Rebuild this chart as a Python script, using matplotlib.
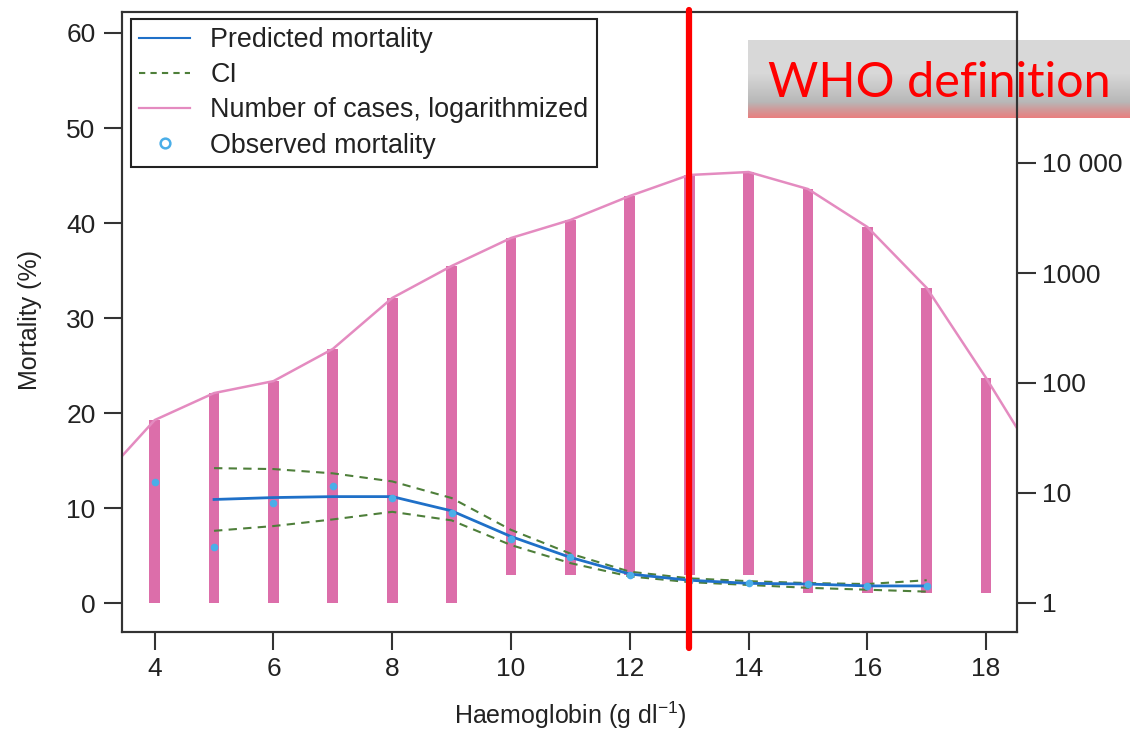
import numpy as np
import matplotlib
matplotlib.use("Agg")
import matplotlib.pyplot as plt
from matplotlib.lines import Line2D
from matplotlib.ticker import FixedLocator, FixedFormatter, NullLocator
import matplotlib.transforms as mtransforms

plt.rcParams['font.family'] = ['Liberation Sans', 'DejaVu Sans']
plt.rcParams['mathtext.fontset'] = 'custom'
plt.rcParams['mathtext.rm'] = 'Liberation Sans'
plt.rcParams['mathtext.it'] = 'Liberation Sans:italic'

# ---------------- data ----------------
hb = [4, 5, 6, 7, 8, 9, 10, 11, 12, 13, 14, 15, 16, 17, 18]
cases_top = [46, 81, 104, 204, 593, 1158, 2080, 3033, 5012, 7780, 8280, 5800, 2620, 731, 111]
cases_bottom = [1, 1, 1, 1, 1, 1, 1.8, 1.8, 1.8, 1.8, 1.8, 1.23, 1.23, 1.23, 1.23]
line_x = [3, 4, 5, 6, 7, 8, 9, 10, 11, 12, 13, 14, 15, 16, 17, 18, 19]
line_cases = [11.7, 46, 81, 104, 204, 593, 1158, 2080, 3033, 5012, 7780, 8280, 5800, 2620, 731, 111, 14.8]

pred_x = [5, 6, 7, 8, 9, 10, 11, 12, 13, 14, 15, 16, 17]
predicted = [10.9, 11.1, 11.2, 11.2, 9.7, 7.0, 4.8, 3.05, 2.4, 2.07, 2.0, 1.8, 1.8]
ci_upper = [14.2, 14.1, 13.65, 12.8, 11.05, 7.7, 5.2, 3.3, 2.6, 2.3, 2.1, 2.0, 2.4]
ci_lower = [7.6, 8.1, 8.8, 9.6, 8.7, 6.1, 4.2, 2.8, 2.2, 1.9, 1.6, 1.4, 1.2]

obs_x = [4, 5, 6, 7, 8, 9, 10, 11, 12, 13, 14, 15, 16, 17]
observed = [12.7, 5.9, 10.5, 12.3, 11.1, 9.5, 6.7, 4.8, 3.0, 2.35, 2.07, 2.0, 1.8, 1.8]

who_threshold = 13

left_ticks = [0, 10, 20, 30, 40, 50, 60]
right_ticks = [1, 10, 100, 1000, 10000]
right_labels = ['1', '10', '100', '1000', '10 000']
x_ticks = [4, 6, 8, 10, 12, 14, 16, 18]

legend_labels = ['Predicted mortality', 'CI', 'Number of cases, logarithmized', 'Observed mortality']

# ---------------- styling ----------------
W, H = 1130, 731
fig = plt.figure(figsize=(W / 100, H / 100), dpi=100)
fig.patch.set_facecolor('white')

L, R, T, B = 122, 1017, 12, 632
ax = fig.add_axes([L / W, 1 - B / H, (R - L) / W, (B - T) / H])
ax2 = ax.twinx()
ax.set_zorder(ax2.get_zorder() + 1)
ax.patch.set_visible(False)

pink_bar = '#DC6EAA'
pink_line = '#E48BC0'
blue = '#1F70C8'
green = '#4E7F3A'
light_blue = '#4AAEE8'
spine_c = '#333333'
text_c = '#222222'

# bars + line on log axis
heights = [t - b for t, b in zip(cases_top, cases_bottom)]
ax2.bar(hb, heights, bottom=cases_bottom, width=0.18, color=pink_bar, linewidth=0, zorder=2)
ax2.plot(line_x, line_cases, color=pink_line, lw=1.8, zorder=3)
ax2.set_yscale('log')
ax2.set_ylim(10 ** (-29 / 110), 10 ** (591 / 110))
ax2.yaxis.set_major_locator(FixedLocator(right_ticks))
ax2.yaxis.set_major_formatter(FixedFormatter(right_labels))
ax2.yaxis.set_minor_locator(NullLocator())

# mortality
ax.plot(pred_x, ci_upper, color=green, lw=1.5, ls=(0, (4, 3)), zorder=3)
ax.plot(pred_x, ci_lower, color=green, lw=1.5, ls=(0, (4, 3)), zorder=3)
ax.plot(pred_x, predicted, color=blue, lw=2.0, zorder=4)
ax.plot(obs_x, observed, ls='none', marker='o', ms=4.5, mfc=light_blue, mec=light_blue, zorder=5)

ax.set_xlim(3.45, 18.52)
ax.set_ylim(-3.05, 62.21)
ax.set_xticks(x_ticks)
ax.set_yticks(left_ticks)

for a in (ax, ax2):
    for s in a.spines.values():
        s.set_color(spine_c)
        s.set_linewidth(1.5)
ax.tick_params(axis='both', direction='out', length=13, width=1.5, color=spine_c,
               labelsize=19, labelcolor=text_c)
ax.tick_params(axis='y', pad=6)
ax.tick_params(axis='x', pad=5)
ax2.tick_params(axis='y', direction='out', length=14, width=1.5, color=spine_c,
                labelsize=19, labelcolor=text_c, pad=4)

ax.set_xlabel('Haemoglobin (g dl$^{-1}$)', fontsize=18, color=text_c)
ax.set_ylabel('Mortality (%)', fontsize=18, color=text_c)
ax.xaxis.set_label_coords((570 - L) / (R - L), -(715 - B) / (B - T))
ax.xaxis.label.set_va('center')
ax.yaxis.set_label_coords(-(L - 30) / (R - L), (B - 320) / (B - T))
ax.yaxis.label.set_va('center')

# legend
handles = [
    Line2D([], [], color=blue, lw=1.5),
    Line2D([], [], color=green, lw=1.5, ls=(0, (3, 2.5))),
    Line2D([], [], color=pink_line, lw=1.6),
    Line2D([], [], ls='none', marker='o', ms=7, mfc='none', mec=light_blue, mew=1.8),
]
leg = ax.legend(handles, legend_labels, loc='upper left',
                bbox_to_anchor=(131 / W, 1 - 19 / H), bbox_transform=fig.transFigure,
                borderaxespad=0, fancybox=False, edgecolor=text_c, framealpha=1,
                fontsize=19.4, handlelength=1.9, handletextpad=0.75, labelspacing=0.34,
                borderpad=0.3)
leg.get_frame().set_linewidth(1.5)
for t in leg.get_texts():
    t.set_color(text_c)

# WHO threshold line (extends slightly beyond the axes)
trans = mtransforms.blended_transform_factory(ax.transData, ax.transAxes)
ax.plot([who_threshold, who_threshold], [1 + 2 / (B - T), -(648 - B) / (B - T)],
        transform=trans, color='#FF0000', lw=4.5, solid_capstyle='round',
        clip_on=False, zorder=10)

# WHO definition box with gradient
bx0, by0, bx1, by1 = 748, 40, W, 118
box_ax = fig.add_axes([bx0 / W, 1 - by1 / H, (bx1 - bx0) / W, (by1 - by0) / H], zorder=-5)
n = 78
grad = np.zeros((n, 1, 3))
stops_pos = [0.0, 0.42, 0.80, 0.88, 1.0]
stops_col = [(0.85, 0.85, 0.85), (0.85, 0.85, 0.85), (0.72, 0.72, 0.72),
             (0.80, 0.62, 0.62), (0.91, 0.50, 0.50)]
ys = np.linspace(0, 1, n)
for c in range(3):
    grad[:, 0, c] = np.interp(ys, stops_pos, [sc[c] for sc in stops_col])
box_ax.imshow(grad, aspect='auto', extent=[0, 1, 1, 0])
box_ax.set_xlim(0, 1)
box_ax.set_ylim(1, 0)
box_ax.axis('off')
fig.text(768 / W, 1 - 97 / H, 'WHO definition', color='#FF0000', fontsize=35,
         family=['Lato', 'DejaVu Sans'], weight='normal', ha='left', va='baseline', zorder=20)

fig.savefig('out.png', dpi=100, facecolor='white')
